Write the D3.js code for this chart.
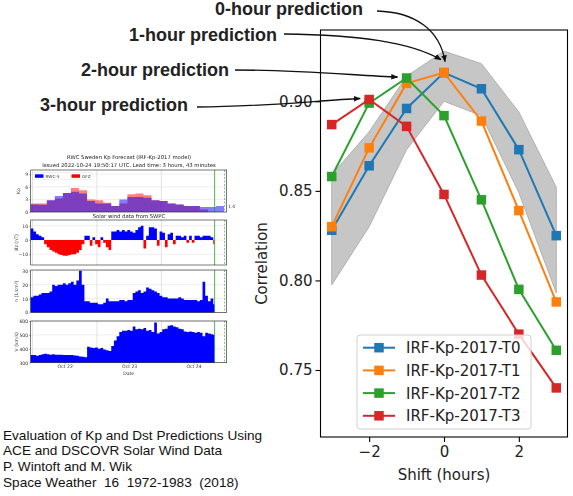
<!DOCTYPE html>
<html><head><meta charset="utf-8">
<script src="https://cdn.jsdelivr.net/npm/d3@7"></script>
<style>body{margin:0;background:#fff} text{white-space:pre}</style>
</head><body><svg id="c" width="573" height="496"></svg>
<script>
// ---------- main chart data ----------
const shifts = [-3, -2, -1, 0, 1, 2, 3];
const seriesNames = ["IRF-Kp-2017-T0", "IRF-Kp-2017-T1", "IRF-Kp-2017-T2", "IRF-Kp-2017-T3"];
const t0 = [0.828, 0.864, 0.896, 0.916, 0.907, 0.873, 0.825];
const t1 = [0.830, 0.874, 0.910, 0.916, 0.889, 0.839, 0.788];
const t2 = [0.858, 0.899, 0.913, 0.892, 0.845, 0.795, 0.761];
const t3 = [0.887, 0.901, 0.886, 0.848, 0.803, 0.770, 0.740];
const bandLow = [0.7975, 0.830, 0.873, 0.900, 0.892, 0.849, 0.793];
const bandHigh = [0.859, 0.883, 0.914, 0.928, 0.921, 0.894, 0.852];
const yTicks = [0.75, 0.80, 0.85, 0.90];
const xTicks = [-2, 0, 2];
const xLabel = "Shift (hours)";
const yLabel = "Correlation";
const annotationTexts = ["0-hour prediction", "1-hour prediction", "2-hour prediction", "3-hour prediction"];
const annotationShift = [0, 0, -1, -2];
const citation = [
  "Evaluation of Kp and Dst Predictions Using",
  "ACE and DSCOVR Solar Wind Data",
  "P. Wintoft and M. Wik",
  "Space Weather  16  1972-1983  (2018)"
];

// ---------- inset data (RWC Sweden forecast screenshot) ----------
const insetTitle1 = "RWC Sweden Kp Forecast (IRF-Kp-2017 model)";
const insetTitle2 = "Issued 2022-10-24 19:50:17 UTC. Lead time: 3 hours, 43 minutes";
const insetTitle3 = "Solar wind data from SWPC";
const rwcKp = [1.8, 1.7, 2.8, 3.8, 4.5, 4.8, 4.4, 2.6, 2.0, 2.0, 1.4, 3.0, 3.6, 3.6, 3.4, 2.8, 2.6, 2.0, 1.8, 1.4, 1.4, 1.2, 1.2, 1.4];
const gfzKp = [2.0, 2.0, 2.8, 3.2, 4.5, 5.7, 5.2, 3.0, 2.8, 2.2, 1.4, 2.0, 4.2, 4.4, 4.0, 2.8, 2.6, 2.0, 1.8, 1.4, 1.4, 0.6];
const bz = [8, 6, 4, 3, 2, -3, -5, -7, -8, -9, -10, -10.5, -11, -11, -10.5, -10, -10, -9, -7, -3,
  3, 3, -4, 2, -3, -5, 2, -2, -5, -7, 6, 6, 7, 6, 7, 6, 7, 6, 5, 7,
  9, 10, -6, 3, 9, 9, 8, -4, 6, 5, -5, 4, 5, -3, 3, 3, 2, 3, -2, 3,
  -2, 3, 3, 2, 3, 3, 3, 2, -3];
const dens = [11, 12, 12, 13, 14, 14, 14, 15, 20, 19, 20, 20, 21, 20, 21, 22, 20, 23, 30, 20,
  8, 8, 7, 7, 7, 6, 6, 7, 10, 8, 8, 8, 8, 9, 9, 8, 9, 9, 14, 15,
  16, 14, 15, 18, 17, 16, 15, 14, 12, 11, 11, 10, 10, 10, 10, 11, 10, 9, 9, 9,
  9, 9, 8, 9, 22, 12, 8, 10, 6];
const speed = [355, 355, 350, 355, 360, 365, 360, 358, 360, 358, 357, 358, 356, 355, 356, 355, 352, 350, 345, 342,
  340, 415, 410, 405, 410, 400, 405, 395, 390, 385, 420, 460, 490, 520, 530, 530, 535, 530, 560, 540,
  545, 540, 550, 530, 535, 520, 590, 510, 520, 540, 545, 565, 570, 560, 555, 545, 540, 525, 520, 525,
  520, 515, 520, 515, 490, 515, 510, 505, 500];
const kpNowLabel = "1.4";

// ---------- setup ----------
const svg = d3.select("#c");
svg.append("rect").attr("width", 573).attr("height", 496).attr("fill", "#fff");
const MAIN_FONT = "DejaVu Sans, sans-serif";
const ARIAL = "Liberation Sans, Arial, sans-serif";

// ---------- main chart ----------
const plot = {left: 320.5, right: 567.5, top: 30, bottom: 437};
const x = d3.scaleLinear().domain([-3.3, 3.3]).range([plot.left, plot.right]);
const y = d3.scaleLinear().domain([0.7126, 0.9398]).range([plot.bottom, plot.top]);

const g = svg.append("g");
const bandData = shifts.map((s, i) => ({s, lo: bandLow[i], hi: bandHigh[i]}));
g.append("path").datum(bandData)
  .attr("d", d3.area().x(d => x(d.s)).y0(d => y(d.lo)).y1(d => y(d.hi)))
  .attr("fill", "#c6c6c6").attr("stroke", "#b2b2b2").attr("stroke-width", 1);

const allSeries = [t0, t1, t2, t3];
const colors = ["#1f77b4", "#ff7f0e", "#2ca02c", "#d62728"];
const line = d3.line().x(d => x(d[0])).y(d => y(d[1]));
const MS = 9.5;
allSeries.forEach((vals, k) => {
  const pts = shifts.map((s, i) => [s, vals[i]]);
  g.append("path").datum(pts).attr("d", line).attr("fill", "none")
    .attr("stroke", colors[k]).attr("stroke-width", 2);
  g.selectAll(null).data(pts).enter().append("rect")
    .attr("x", d => x(d[0]) - MS / 2).attr("y", d => y(d[1]) - MS / 2)
    .attr("width", MS).attr("height", MS).attr("fill", colors[k]);
});

svg.append("rect").attr("x", plot.left).attr("y", plot.top)
  .attr("width", plot.right - plot.left).attr("height", plot.bottom - plot.top)
  .attr("fill", "none").attr("stroke", "#000").attr("stroke-width", 1.1);

const yAxis = svg.append("g").attr("transform", `translate(${plot.left},0)`)
  .call(d3.axisLeft(y).tickValues(yTicks).tickFormat(d3.format(".2f")).tickSize(5).tickPadding(3));
const xAxis = svg.append("g").attr("transform", `translate(0,${plot.bottom})`)
  .call(d3.axisBottom(x).tickValues(xTicks).tickFormat(d3.format("d")).tickSize(5).tickPadding(4));
[yAxis, xAxis].forEach(a => {
  a.select(".domain").remove();
  a.selectAll("line").attr("stroke", "#000").attr("stroke-width", 1.1);
  a.selectAll("text").attr("font-family", MAIN_FONT).attr("font-size", 15).attr("fill", "#222");
});
svg.append("text").attr("x", x(0)).attr("y", 480).attr("text-anchor", "middle")
  .attr("font-family", MAIN_FONT).attr("font-size", 15).attr("fill", "#222").text(xLabel);
svg.append("text").attr("transform", `translate(267,${(plot.top + plot.bottom) / 2 + 30}) rotate(-90)`)
  .attr("text-anchor", "middle").attr("font-family", MAIN_FONT).attr("font-size", 15)
  .attr("fill", "#222").text(yLabel);

// legend
const lg = svg.append("g").attr("transform", "translate(357,335)");
lg.append("rect").attr("width", 174).attr("height", 94).attr("rx", 3)
  .attr("fill", "#fff").attr("fill-opacity", 0.8).attr("stroke", "#d0d0d0");
seriesNames.forEach((n, k) => {
  const yy = 12.7 + k * 22.7;
  lg.append("line").attr("x1", 6).attr("x2", 38).attr("y1", yy).attr("y2", yy)
    .attr("stroke", colors[k]).attr("stroke-width", 2);
  lg.append("rect").attr("x", 22 - MS / 2).attr("y", yy - MS / 2).attr("width", MS).attr("height", MS)
    .attr("fill", colors[k]);
  lg.append("text").attr("x", 49).attr("y", yy + 5.5).attr("font-family", MAIN_FONT)
    .attr("font-size", 15).attr("fill", "#222").text(n);
});

// annotations
const defs = svg.append("defs");
defs.append("marker").attr("id", "ah").attr("viewBox", "0 0 10 10").attr("refX", 9).attr("refY", 5)
  .attr("markerWidth", 7).attr("markerHeight", 7).attr("markerUnits", "userSpaceOnUse")
  .attr("orient", "auto").append("path").attr("d", "M0,1 L10,5 L0,9 z").attr("fill", "#111");
const annText = [{xr: 363, yb: 15}, {xr: 277, yb: 40.5}, {xr: 229, yb: 76}, {xr: 188, yb: 111}];
const annStart = [[377, 11], [284, 34], [235, 70], [197, 107]];
annotationTexts.forEach((t, k) => {
  svg.append("text").attr("x", annText[k].xr).attr("y", annText[k].yb).attr("text-anchor", "end")
    .attr("font-family", ARIAL).attr("font-weight", "bold").attr("font-size", 18).attr("fill", "#222").text(t);
  const tx = x(annotationShift[k]);
  const ty = y(allSeries[k][shifts.indexOf(annotationShift[k])]);
  let end, c1, c2;
  const s = annStart[k];
  if (k === 0) { end = [tx + 1, ty - 11]; c1 = [415, 12]; c2 = [440, 30]; }
  else if (k === 1) { end = [tx - 3, ty - 13]; c1 = [360, 35]; c2 = [410, 42]; }
  else { end = [tx - 9, ty - 1]; c1 = [s[0] + 65, s[1]]; c2 = [end[0] - 40, end[1] - (end[1] - s[1]) * 0.2]; }
  svg.append("path").attr("d", `M${s[0]},${s[1]} C${c1[0]},${c1[1]} ${c2[0]},${c2[1]} ${end[0]},${end[1]}`)
    .attr("fill", "none").attr("stroke", "#111").attr("stroke-width", 1.3).attr("marker-end", "url(#ah)");
});

// citation
citation.forEach((t, i) => {
  svg.append("text").attr("x", 3).attr("y", 439.5 + i * 15.8).attr("font-family", ARIAL)
    .attr("font-size", 13.6).attr("fill", "#111").attr("xml:space", "preserve").text(t);
});

// ---------- inset ----------
const ins = svg.append("g");
defs.append("filter").attr("id", "soft").append("feGaussianBlur").attr("stdDeviation", 0.35);
ins.attr("filter", "url(#soft)");
const hour = 3600e3;
const tStart = Date.UTC(2022, 9, 21, 23, 20);
const tNow = Date.UTC(2022, 9, 24, 19, 50);
const xt = d3.scaleUtc().domain([new Date(tStart), new Date(tStart + 73 * hour)]).range([30.7, 226.7]);
const SF = 4.6;
const tickFont = "DejaVu Sans, sans-serif";
ins.append("text").attr("x", 129).attr("y", 159.3).attr("text-anchor", "middle").attr("font-family", tickFont)
  .attr("font-size", 5.3).attr("fill", "#222").text(insetTitle1);
ins.append("text").attr("x", 129).attr("y", 167).attr("text-anchor", "middle").attr("font-family", tickFont)
  .attr("font-size", 5.3).attr("fill", "#222").text(insetTitle2);
ins.append("text").attr("x", 129).attr("y", 217.6).attr("text-anchor", "middle").attr("font-family", tickFont)
  .attr("font-size", 5.3).attr("fill", "#222").text(insetTitle3);

const panels = [
  {top: 170, bottom: 212, domain: [0, 10], ticks: [0, 3, 6, 9], label: "Kp"},
  {top: 220, bottom: 265, domain: [-17.5, 14], ticks: [-10, 0, 10], label: "Bz (nT)"},
  {top: 270, bottom: 312.5, domain: [0, 30.5], ticks: [0, 10, 20, 30], label: "n (1/cm³)"},
  {top: 321, bottom: 362.7, domain: [300, 600], ticks: [300, 400, 500, 600], label: "V (km/s)"}
];
const midnights = [Date.UTC(2022, 9, 22), Date.UTC(2022, 9, 23), Date.UTC(2022, 9, 24)];
const noons = [Date.UTC(2022, 9, 22, 12), Date.UTC(2022, 9, 23, 12), Date.UTC(2022, 9, 24, 12)];
const [X0, X1] = xt.range();
panels.forEach((p, pi) => {
  const ys = d3.scaleLinear().domain(p.domain).range([p.bottom, p.top]);
  p.ys = ys;
  const pg = ins.append("g");
  pg.selectAll(null).data(midnights).enter().append("line")
    .attr("x1", d => xt(d)).attr("x2", d => xt(d)).attr("y1", p.top).attr("y2", p.bottom)
    .attr("stroke", "#cfcfcf").attr("stroke-width", 0.6);
  pg.selectAll(null).data(p.ticks).enter().append("line")
    .attr("x1", X0).attr("x2", X1).attr("y1", d => ys(d)).attr("y2", d => ys(d))
    .attr("stroke", "#dcdcdc").attr("stroke-width", 0.5);
  const ax = pg.append("g").attr("transform", `translate(${X0},0)`)
    .call(d3.axisLeft(ys).tickValues(p.ticks).tickSize(1.5).tickPadding(1));
  ax.select(".domain").remove();
  ax.selectAll("line").attr("stroke", "#333").attr("stroke-width", 0.4);
  ax.selectAll("text").attr("font-family", tickFont).attr("font-size", SF).attr("fill", "#333");
  pg.append("text").attr("transform", `translate(${pi === 0 ? 20 : 18},${(p.top + p.bottom) / 2}) rotate(-90)`)
    .attr("text-anchor", "middle").attr("font-family", tickFont).attr("font-size", SF).attr("fill", "#333").text(p.label);
});

// Kp panel step areas
const pk = panels[0];
function kpStep(arr) {
  const pts = arr.map((v, i) => [tStart + i * 3 * hour, v]);
  pts.push([tStart + arr.length * 3 * hour, arr[arr.length - 1]]);
  return pts;
}
const stepArea = (p) => d3.area().curve(d3.curveStepAfter)
  .x(d => xt(new Date(d[0]))).y0(p.ys(p.domain[0] < 0 ? 0 : p.domain[0])).y1(d => p.ys(d[1]));
ins.append("path").datum(kpStep(gfzKp)).attr("d", stepArea(pk)).attr("fill", "#ff0000").attr("fill-opacity", 0.5);
ins.append("path").datum(kpStep(rwcKp)).attr("d", stepArea(pk)).attr("fill", "#0000ff").attr("fill-opacity", 0.5);
const kl = ins.append("g").attr("transform", "translate(33,172.5)");
kl.append("rect").attr("width", 58).attr("height", 7).attr("fill", "#fff").attr("fill-opacity", 0.7)
  .attr("stroke", "#ccc").attr("stroke-width", 0.3);
kl.append("rect").attr("x", 2).attr("y", 1.8).attr("width", 8.5).attr("height", 3.5).attr("fill", "#0000ff");
kl.append("text").attr("x", 12.5).attr("y", 5.3).attr("font-family", tickFont).attr("font-size", 4.2).attr("fill", "#333").text("RWC-S");
kl.append("rect").attr("x", 38.5).attr("y", 1.8).attr("width", 8.5).attr("height", 3.5).attr("fill", "#ff0000");
kl.append("text").attr("x", 49).attr("y", 5.3).attr("font-family", tickFont).attr("font-size", 4.2).attr("fill", "#333").text("GFZ");
ins.append("text").attr("x", 228).attr("y", pk.ys(rwcKp[rwcKp.length - 1]) + 1.5).attr("font-family", tickFont)
  .attr("font-size", 4.4).attr("fill", "#333").text(kpNowLabel);

// solar wind panels: hourly step areas up to "now"
function hourStep(arr, f) {
  const pts = arr.map((v, i) => [tStart + i * hour, f(v)]);
  pts.push([tNow, f(arr[arr.length - 1])]);
  return pts;
}
const p1 = panels[1], p2 = panels[2], p3 = panels[3];
ins.append("path").datum(hourStep(bz, v => Math.max(v, 0))).attr("d", stepArea(p1)).attr("fill", "#0000ff");
ins.append("path").datum(hourStep(bz, v => Math.min(v, 0))).attr("d", stepArea(p1)).attr("fill", "#ff0000");
ins.append("path").datum(hourStep(dens, v => v)).attr("d", stepArea(p2)).attr("fill", "#0000ff");
ins.append("path").datum(hourStep(speed, v => v)).attr("d", stepArea(p3)).attr("fill", "#0000ff");

panels.forEach(p => {
  ins.append("line").attr("x1", xt(new Date(tNow))).attr("x2", xt(new Date(tNow)))
    .attr("y1", p.top).attr("y2", p.bottom).attr("stroke", "#2ca02c").attr("stroke-width", 0.8);
  ins.append("line").attr("x1", xt(new Date(tNow + 3.7 * hour))).attr("x2", xt(new Date(tNow + 3.7 * hour)))
    .attr("y1", p.top).attr("y2", p.bottom).attr("stroke", "#2ca02c").attr("stroke-width", 0.6)
    .attr("stroke-dasharray", "2,1.5");
  ins.append("rect").attr("x", X0).attr("y", p.top).attr("width", X1 - X0).attr("height", p.bottom - p.top)
    .attr("fill", "none").attr("stroke", "#222").attr("stroke-width", 0.6);
});
const dax = ins.append("g").attr("transform", `translate(0,${p3.bottom})`)
  .call(d3.axisBottom(xt).tickValues(noons.map(d => new Date(d))).tickFormat(d3.utcFormat("%b %d")).tickSize(1.5).tickPadding(1));
dax.select(".domain").remove();
dax.selectAll("line").attr("stroke", "#333").attr("stroke-width", 0.4);
dax.selectAll("text").attr("font-family", tickFont).attr("font-size", SF).attr("fill", "#333");
ins.append("text").attr("x", (X0 + X1) / 2).attr("y", 375).attr("text-anchor", "middle")
  .attr("font-family", tickFont).attr("font-size", SF).attr("fill", "#333").text("Date");
</script></body></html>
